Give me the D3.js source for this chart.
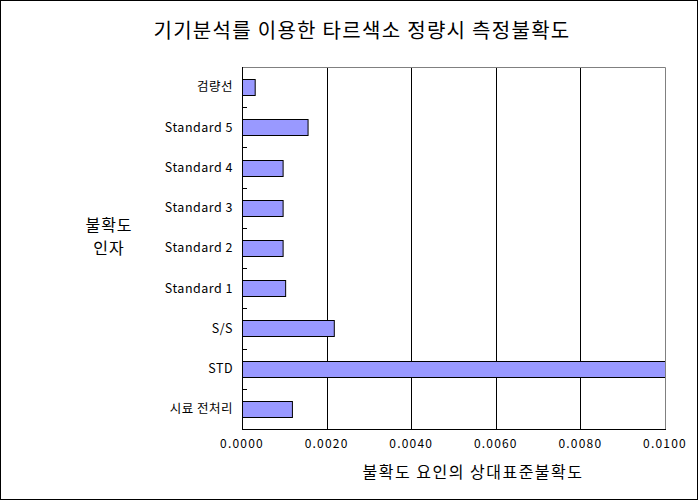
<!DOCTYPE html>
<html><head><meta charset="utf-8">
<script src="https://cdn.jsdelivr.net/npm/d3@7/dist/d3.min.js"></script>
<style>body{margin:0;background:#fff}svg{display:block}text{font-family:"Noto Sans CJK KR","DejaVu Sans",sans-serif;fill:#000}</style>
</head><body><svg id="c" width="698" height="500"></svg>
<script>
const categories = ["검량선","Standard 5","Standard 4","Standard 3","Standard 2","Standard 1","S/S","STD","시료 전처리"];
const values = [0.00030,0.00155,0.00096,0.00096,0.00096,0.00102,0.00217,0.0115,0.00118];
const xTicks = [0,0.002,0.004,0.006,0.008,0.010];
const title = "기기분석를 이용한 타르색소 정량시 측정불확도";
const xTitle = "불확도 요인의 상대표준불확도";
const yTitle = ["불확도","인자"];

const svg = d3.select("#c");
const L=242, R=665, T=67, B=429;
svg.append("rect").attr("x",0.5).attr("y",0.5).attr("width",697).attr("height",499).attr("fill","#fff").attr("stroke","#000");

const x = d3.scaleLinear().domain([0,0.01]).range([L,R]);
const y = d3.scaleBand().domain(categories).range([T,B]).paddingInner(0.6).paddingOuter(0.3);
const yb = d3.scaleBand().domain(categories).range([T,B]);

svg.append("defs").append("clipPath").attr("id","clip").append("rect").attr("x",L).attr("y",T).attr("width",R-L).attr("height",B-T);

// gridlines
svg.append("g").selectAll("line").data(xTicks.slice(1,-1)).join("line")
  .attr("x1",d=>Math.round(x(d))+0.5).attr("x2",d=>Math.round(x(d))+0.5)
  .attr("y1",T).attr("y2",B).attr("stroke","#000");
// plot border top/right gray
svg.append("path").attr("d",`M${L},${T+0.5}H${R+0.5}V${B}`).attr("fill","none").attr("stroke","#808080");

// bars
svg.append("g").attr("clip-path","url(#clip)").selectAll("rect").data(categories).join("rect")
  .attr("x",L+0.5).attr("y",d=>Math.round(y(d))+0.5)
  .attr("width",(d,i)=>x(values[i])-L).attr("height",Math.round(y.bandwidth()))
  .attr("fill","#9999FF").attr("stroke","#000");

// axes
svg.append("line").attr("x1",L+0.5).attr("x2",L+0.5).attr("y1",T).attr("y2",B+0.5).attr("stroke","#000");
svg.append("line").attr("x1",L).attr("x2",R+1).attr("y1",B+0.5).attr("y2",B+0.5).attr("stroke","#000");
// y ticks at category boundaries
svg.append("g").selectAll("line").data(categories.slice(1)).join("line")
  .attr("x1",L).attr("x2",L+5).attr("y1",d=>Math.round(yb(d))+0.5).attr("y2",d=>Math.round(yb(d))+0.5).attr("stroke","#000");

// category labels
svg.append("g").selectAll("text").data(categories).join("text")
  .attr("x",233).attr("y",d=>yb(d)+yb.bandwidth()/2).attr("dy","0.35em")
  .attr("text-anchor","end").attr("font-size",12.5).attr("letter-spacing","0.5px").text(d=>d);

// x tick labels
svg.append("g").selectAll("text").data(xTicks).join("text")
  .attr("x",d=>x(d)).attr("y",448).attr("text-anchor","middle").attr("font-size",12)
  .attr("letter-spacing","1.2px").text(d=>d.toFixed(4));

svg.append("text").attr("x",362).attr("y",38).attr("text-anchor","middle").attr("font-size",20).attr("letter-spacing","1.3px").text(title);
svg.append("text").attr("x",473).attr("y",478).attr("text-anchor","middle").attr("font-size",16).attr("letter-spacing","1.5px").text(xTitle);
svg.append("g").selectAll("text").data(yTitle).join("text")
  .attr("x",109).attr("y",(d,i)=>231+i*23).attr("text-anchor","middle").attr("font-size",16).attr("letter-spacing","1px").text(d=>d);
</script></body></html>
